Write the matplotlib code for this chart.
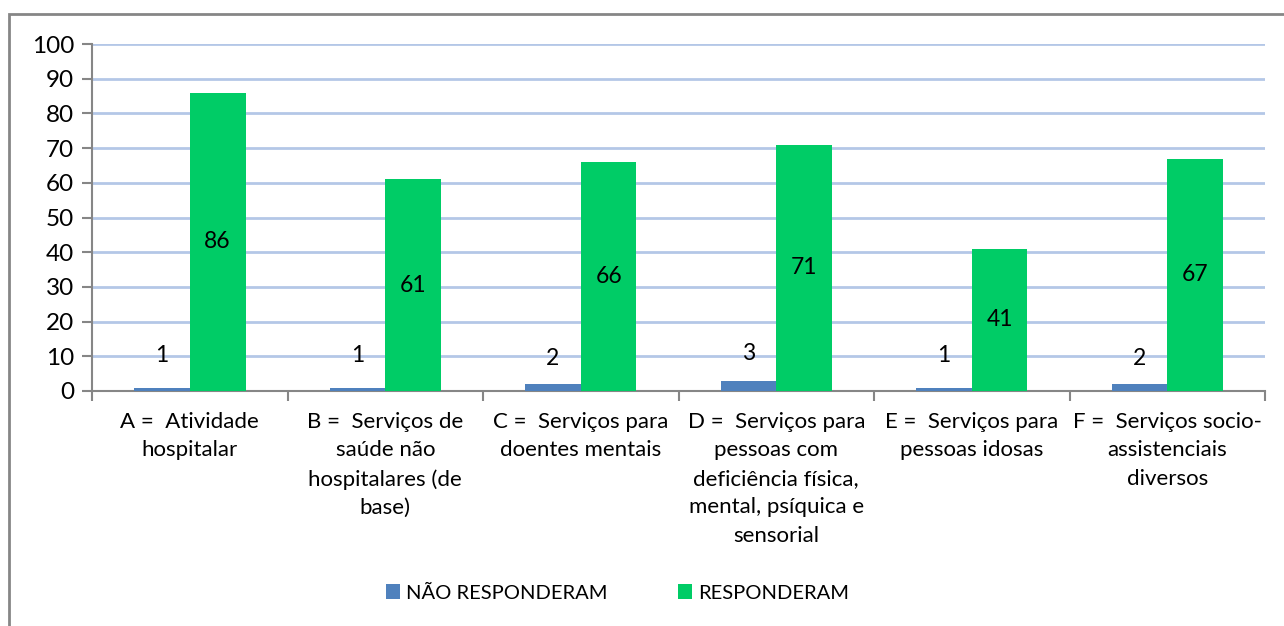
import matplotlib
matplotlib.use("Agg")
import matplotlib.pyplot as plt
from matplotlib.patches import Rectangle
import numpy as np

# data
categories = [
    "A =  Atividade\nhospitalar",
    "B =  Serviços de\nsaúde não\nhospitalares (de\nbase)",
    "C =  Serviços para\ndoentes mentais",
    "D =  Serviços para\npessoas com\ndeficiência física,\nmental, psíquica e\nsensorial",
    "E =  Serviços para\npessoas idosas",
    "F =  Serviços socio-\nassistenciais\ndiversos",
]
nao_responderam = [1, 1, 2, 3, 1, 2]
responderam = [86, 61, 66, 71, 41, 67]
series_names = ["NÃO RESPONDERAM", "RESPONDERAM"]
y_ticks = [0, 10, 20, 30, 40, 50, 60, 70, 80, 90, 100]

BLUE = "#4F81BD"
GREEN = "#00CC66"
GRID = "#B4C7E7"
AXIS = "#868686"

plt.rcParams["font.family"] = ["Lato", "DejaVu Sans"]

fig = plt.figure(figsize=(12.84, 6.26), dpi=100)
ax = fig.add_axes([0.0717, 0.3754, 0.9135, 0.5543])

# outer chart frame (runs off the right and bottom edges like the reference)
fig.patches.append(Rectangle((9 / 1284, -0.05), 1.2, 1 - 14 / 626 + 0.05,
                             transform=fig.transFigure, fill=False,
                             edgecolor=AXIS, linewidth=2))

x = np.arange(len(categories))
w = 0.285
b1 = ax.bar(x - w / 2, nao_responderam, w, color=BLUE, label=series_names[0], zorder=3)
b2 = ax.bar(x + w / 2, responderam, w, color=GREEN, label=series_names[1], zorder=3)

# labels: small bars get their label lifted above, big bars centred
lift = [10.1, 10.1, 9.5, 10.7, 10.1, 9.5]
for xi, v, ly in zip(x, nao_responderam, lift):
    ax.text(xi - w / 2, ly, str(v), ha="center", va="center", fontsize=16.5, zorder=4)
for xi, v in zip(x, responderam):
    ax.text(xi + w / 2, v / 2, str(v), ha="center", va="center", fontsize=16.5, zorder=4)

ax.set_ylim(0, 100)
ax.set_xlim(-0.5, len(categories) - 0.5)
ax.set_yticks(y_ticks)
ax.tick_params(axis="y", labelsize=17.5, length=7, width=1.5, color=AXIS, pad=6)
ax.yaxis.grid(True, color=GRID, linewidth=2, zorder=0)
ax.set_axisbelow(True)

# category separators as ticks, labels at centres
ax.set_xticks(np.arange(len(categories) + 1) - 0.5)
ax.set_xticklabels([])
ax.tick_params(axis="x", length=7, width=1.5, color=AXIS)
ax.set_xticks(x, minor=True)
ax.set_xticklabels(categories, minor=True, fontsize=16, linespacing=1.53, va="top")
ax.tick_params(axis="x", which="minor", length=0, pad=15)

for s in ["top", "right"]:
    ax.spines[s].set_visible(False)
for s in ["left", "bottom"]:
    ax.spines[s].set_color(AXIS)
    ax.spines[s].set_linewidth(1.5)

fig.legend(handles=[b1, b2], loc="center", bbox_to_anchor=(0.481, 1 - 593 / 626),
           ncol=2, frameon=False, fontsize=14.5, handlelength=0.7, handleheight=0.7,
           handletextpad=0.3, columnspacing=3.5)

fig.savefig("out.png", dpi=100, facecolor="white")
